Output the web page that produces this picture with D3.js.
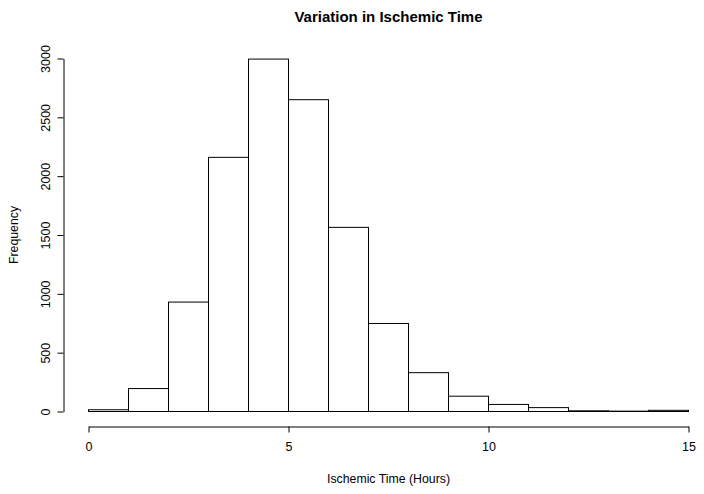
<!DOCTYPE html>
<html><head><meta charset="utf-8">
<script src="https://cdn.jsdelivr.net/npm/d3@7"></script>
<style>body{margin:0;background:#fff}svg{display:block}text{font-family:"Liberation Sans",Arial,Helvetica,sans-serif;fill:#000}</style>
</head><body><svg id="c" width="704" height="494"></svg>
<script>
const binStarts = [0,1,2,3,4,5,6,7,8,9,10,11,12,13,14];
const binWidth = 1;
const counts = [15,195,930,2160,2995,2650,1565,748,330,130,60,33,6,3,10];
const xTicks = [0,5,10,15];
const yTicks = [0,500,1000,1500,2000,2500,3000];
const title = "Variation in Ischemic Time";
const xLabel = "Ischemic Time (Hours)";
const yLabel = "Frequency";

const svg = d3.select("#c");
const x = d3.scaleLinear().domain([0,15]).range([88.5,688.5]);
const y = d3.scaleLinear().domain([0,3000]).range([411.5,58.5]);

svg.append("g").selectAll("rect").data(binStarts).join("rect")
  .attr("x", d => x(d)).attr("width", d => x(d+binWidth)-x(d))
  .attr("y", (d,i) => y(counts[i])).attr("height", (d,i) => y(0)-y(counts[i]))
  .attr("fill","#fff").attr("stroke","#000").attr("stroke-width",1);

const xa = svg.append("g").attr("transform","translate(0,426.5)")
  .call(d3.axisBottom(x).tickValues(xTicks).tickSize(6).tickPadding(10).tickSizeOuter(0).tickFormat(d3.format("d")));
xa.select(".domain").attr("stroke","#000");
xa.selectAll("text").attr("font-size",12.5).attr("font-family","Liberation Sans, Arial, sans-serif");

const ya = svg.append("g").attr("transform","translate(63.5,0)")
  .call(d3.axisLeft(y).tickValues(yTicks).tickSize(6).tickSizeOuter(0).tickFormat(d3.format("d")));
ya.selectAll("text").remove();
ya.selectAll(".tick").append("text")
  .attr("transform","translate(-17.5,0) rotate(-90)")
  .attr("text-anchor","middle").attr("dy","0.35em")
  .attr("font-size",12.5).text(d => d);

svg.append("text").attr("x",388.5).attr("y",22).attr("text-anchor","middle")
  .attr("font-size",15).attr("font-weight","bold").text(title);
svg.append("text").attr("x",388.5).attr("y",483).attr("text-anchor","middle")
  .attr("font-size",12.3).text(xLabel);
svg.append("text").attr("transform","translate(18,235) rotate(-90)").attr("text-anchor","middle")
  .attr("font-size",12.3).text(yLabel);
</script></body></html>
